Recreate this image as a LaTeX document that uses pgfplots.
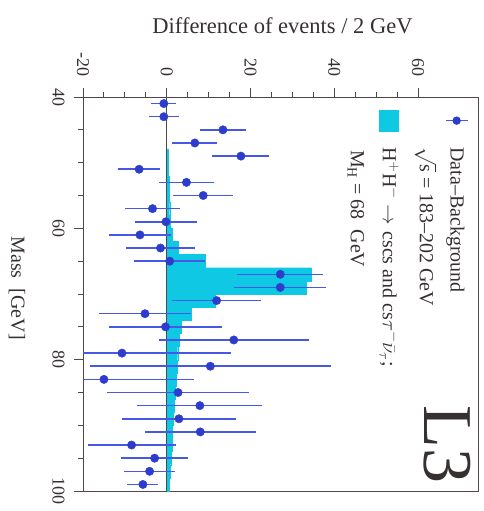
\documentclass[border=0pt]{standalone}
\usepackage{fontspec}
\setmainfont{Liberation Serif}
\usepackage{pgfplots}
\pgfplotsset{compat=1.18}
\definecolor{datablue}{RGB}{45,60,205}
\definecolor{errblue}{RGB}{70,88,228}
\definecolor{sigcyan}{RGB}{15,200,228}
\definecolor{framegray}{RGB}{80,72,72}
\definecolor{txt}{RGB}{55,48,48}
\begin{document}
\begin{tikzpicture}
\path[use as bounding box] (-83bp,-20bp) rectangle (401bp,491bp);
\begin{axis}[
  at={(0,0)}, anchor=south west,
  scale only axis, width=395bp, height=394bp,
  xmin=-20, xmax=74.3, ymin=40, ymax=100, y dir=reverse,
  axis line style={framegray, line width=1pt},
  xtick={-20,0,20,40,60}, xticklabels={-20,0,20,40,60},
  ytick={40,60,80,100}, yticklabels={40,60,80,100},
  minor x tick num=3, minor y tick num=3,
  xtick pos=right, xticklabel pos=right, ytick pos=left, yticklabel pos=left,
  tick align=outside, major tick length=9bp, minor tick length=5bp,
  tick style={framegray, line width=0.9pt},
  xticklabel shift=8bp, yticklabel shift=6bp,
  xticklabel style={rotate=-90, anchor=east, text=txt, font=\fontsize{18bp}{20bp}\selectfont},
  yticklabel style={rotate=-90, anchor=north, text=txt, font=\fontsize{18bp}{20bp}\selectfont},
  xlabel={Difference of events / 2 GeV},
  xlabel style={at={(axis description cs:0.505,1.18)}, anchor=center, text=txt, font=\fontsize{22.5bp}{26bp}\selectfont},
  ylabel={Mass\ \ [GeV]},
  ylabel style={at={(axis description cs:-0.167,0.515)}, anchor=center, rotate=180, text=txt, font=\fontsize{20bp}{22bp}\selectfont},
]
% signal histogram (2 GeV bins)
\addplot[xbar, bar width=2, bar shift=0pt, fill=sigcyan, draw=sigcyan, line width=0.3pt, forget plot] coordinates {
(0.3,49) (0.4,51) (0.5,53) (0.6,55) (0.7,57) (0.9,59) (1.3,61) (2.7,63) (9.1,65)
(34.5,67) (33.3,69) (11.5,71) (5.9,73) (3.5,75) (2.9,77) (2.6,79) (2.4,81) (2.2,83)
(2.0,85) (1.8,87) (1.6,89) (1.4,91) (1.2,93) (1.0,95) (0.8,97) (0.6,99)};
% zero line
\addplot[framegray, line width=1.4pt, forget plot] coordinates {(0,40) (0,100)};
% data - background
\addplot[only marks, mark=*, mark size=4.2bp, mark options={draw=datablue, fill=datablue},
  error bars/.cd, x dir=both, x explicit, error mark=none, error bar style={errblue, line width=1.5pt}]
coordinates {
(-0.7,41) +- (3.0,0)
(-0.7,43) +- (3.5,0)
(13.4,45) +- (5.5,0)
(6.7,47) +- (5.4,0)
(17.7,49) +- (6.8,0)
(-6.6,51) +- (5.1,0)
(4.7,53) +- (6.5,0)
(8.7,55) +- (7.2,0)
(-3.4,57) +- (6.6,0)
(-0.2,59) +- (7.4,0)
(-6.4,61) +- (7.4,0)
(-1.5,63) +- (8.2,0)
(0.7,65) +- (8.5,0)
(27.1,67) +- (10.3,0)
(27.1,69) +- (11.0,0)
(11.9,71) +- (10.7,0)
(-5.2,73) +- (10.9,0)
(-0.3,75) +- (13.4,0)
(16.0,77) +- (17.9,0)
(-10.7,79) +- (26.0,0)
(10.4,81) +- (28.8,0)
(-15.0,83) +- (21.5,0)
(2.7,85) +- (17.0,0)
(7.9,87) +- (14.9,0)
(2.9,89) +- (13.6,0)
(8.0,91) +- (13.2,0)
(-8.4,93) +- (10.5,0)
(-2.9,95) +- (8.0,0)
(-4.1,97) +- (6.0,0)
(-5.7,99) +- (3.7,0)
};
% legend (rotated, drawn by hand)
\draw[errblue, line width=1.5pt] (axis description cs:0.919,0.940) -- (axis description cs:0.975,0.940);
\fill[datablue] (axis description cs:0.946,0.940) circle (4.2bp);
\fill[sigcyan] (axis description cs:0.749,0.912) rectangle (axis description cs:0.800,0.967);
\begin{scope}[every node/.style={rotate=-90, anchor=base west, inner sep=0pt, text=txt, font=\fontsize{20bp}{22bp}\selectfont}]
\node at (axis description cs:0.931,0.873) {Data--Background};
\node at (axis description cs:0.853,0.873) {$\sqrt{\mathrm{s}}$ = 183--202 GeV};
\node at (axis description cs:0.759,0.873) {$\mathrm{H^+H^-}\rightarrow\mathrm{c\bar{s}\bar{c}s}$ and $\mathrm{c\bar{s}}\tau^-\bar{\nu}_\tau$;};
\node at (axis description cs:0.678,0.866) {M$_\mathrm{H}$ = 68\ \ GeV};
\end{scope}
\node[rotate=-90, text=txt, font=\fontsize{70bp}{70bp}\selectfont] at (axis description cs:0.922,0.119) {L3};
\end{axis}
\end{tikzpicture}
\end{document}
